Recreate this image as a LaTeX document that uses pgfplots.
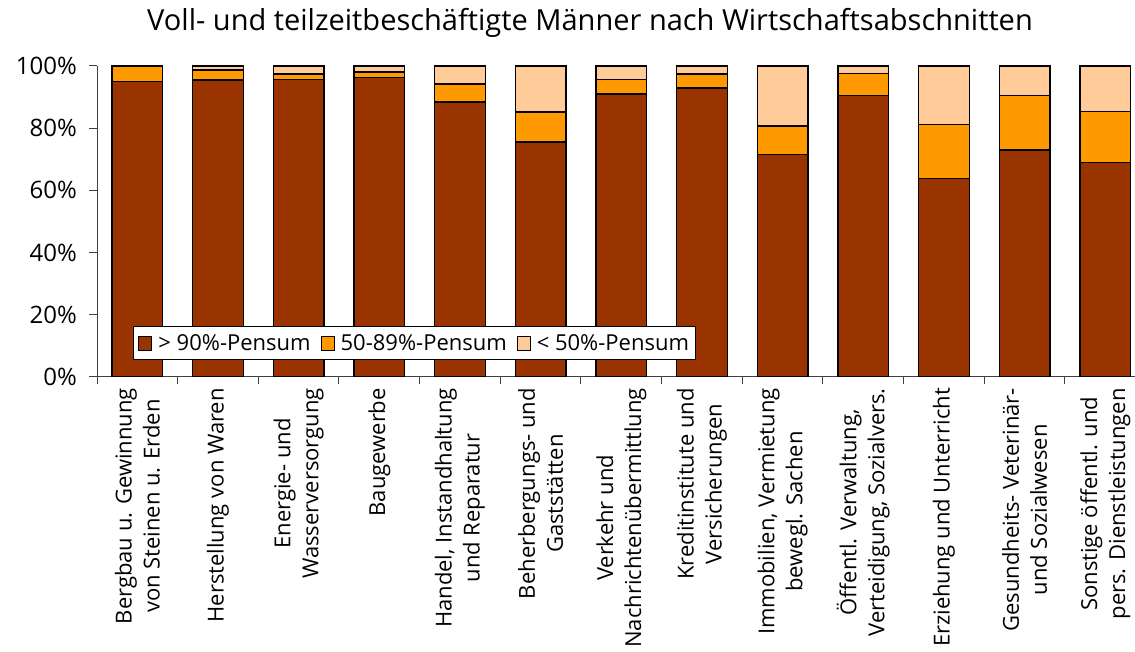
\documentclass[border=0pt]{standalone}
\usepackage{fontspec}
\setmainfont{Open Sans}
\usepackage{pgfplots}
\pgfplotsset{compat=1.18}
\usepackage{pgfplotstable}
\definecolor{cA}{HTML}{993300}
\definecolor{cB}{HTML}{FF9900}
\definecolor{cC}{HTML}{FFCC99}
\pgfplotstableread{
x a b c
0 95.0 5.0 0.0
1 95.5 3.2 1.3
2 95.6 1.8 2.6
3 96.2 1.9 1.9
4 88.4 5.8 5.8
5 75.6 9.6 14.8
6 91.0 4.6 4.4
7 92.9 4.5 2.6
8 71.6 9.1 19.3
9 90.4 7.1 2.5
10 63.9 17.4 18.7
11 73.0 17.4 9.6
12 69.0 16.3 14.7
}\data
\begin{document}
\begin{tikzpicture}
\begin{axis}[
  at={(97pt,275pt)}, anchor=south west,
  scale only axis, width=1048.6pt, height=311pt,
  xmin=-0.5, xmax=12.5, ymin=0, ymax=100,
  ybar stacked, bar width=0.63,
  axis x line*=bottom, axis y line*=left,
  axis line style={black!75, line width=1pt},
  tick align=outside,
  major tick length=8pt, minor tick length=7pt,
  ytick={0,20,40,60,80,100},
  yticklabels={0\%,20\%,40\%,60\%,80\%,100\%},
  yticklabel style={font=\fontsize{24}{28}\selectfont, black, inner sep=0pt, xshift=-12pt},
  every major y tick/.style={black!75, line width=1pt},
  xtick={0,...,12},
  every major x tick/.style={draw=none},
  minor xtick={-0.5,0.5,...,12.5},
  every minor x tick/.style={black!75, line width=1pt},
  xticklabels={{Bergbau u. Gewinnung\\von Steinen u. Erden},
    {Herstellung von Waren},
    {Energie- und\\Wasserversorgung},
    {Baugewerbe},
    {Handel, Instandhaltung\\und Reparatur},
    {Beherbergungs- und\\Gaststätten},
    {Verkehr und\\Nachrichtenübermittlung},
    {Kreditinstitute und\\Versicherungen},
    {Immobilien, Vermietung\\bewegl. Sachen},
    {Öffentl. Verwaltung,\\Verteidigung, Sozialvers.},
    {Erziehung und Unterricht},
    {Gesundheits- Veterinär-\\und Sozialwesen},
    {Sonstige öffentl. und\\pers. Dienstleistungen}},
  xticklabel style={rotate=90, anchor=east, align=center, inner sep=0pt, xshift=-3pt,
    font=\fontsize{22}{28}\selectfont, black},
  legend style={at={(rel axis cs:0.303,0.109)}, anchor=center,
    legend columns=-1, draw=black, line width=1pt,
    font=\fontsize{22}{24}\selectfont, inner xsep=5pt, inner ysep=6pt,
    /tikz/every odd column/.append style={column sep=4pt},
    /tikz/every even column/.append style={column sep=8pt}},
  legend image code/.code={\draw[#1, line width=1pt] (0pt,-7pt) rectangle (13pt,7pt);},
]
\addplot[fill=cA, draw=black, line width=1.3pt] table[x=x,y=a]{\data};
\addplot[fill=cB, draw=black, line width=1.3pt] table[x=x,y=b]{\data};
\addplot[fill=cC, draw=black, line width=1.3pt] table[x=x,y=c]{\data};
\legend{> 90\%-Pensum, 50-89\%-Pensum, < 50\%-Pensum}
\end{axis}
\node[anchor=base, font=\fontsize{29}{34}\selectfont] at (590pt,621pt)
  {Voll- und teilzeitbeschäftigte Männer nach Wirtschaftsabschnitten};
\pgfresetboundingbox
\useasboundingbox (0,0) rectangle (1135pt,652pt);
\end{tikzpicture}
\end{document}
